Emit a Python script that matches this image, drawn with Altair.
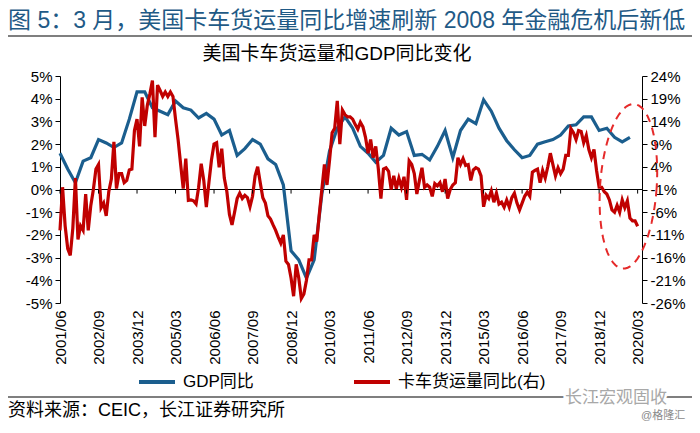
import json
import numpy as np
import pandas as pd
import altair as alt

# ---------------- data ----------------
months = pd.date_range("2001-06-01", "2020-03-01", freq="MS").strftime("%Y/%m").tolist()

# US truck tonnage YoY (%, right axis), monthly 2001/06 - 2020/03
truck_yoy = [
    -10.0, -0.5, -9.0, -14.0, -15.5, -9.5, 1.5, -12.0, -9.0, -10.0,
    -2.0, -10.0, -4.5, -1.0, 3.5, 4.5, -5.0, -4.0, -6.8, -1.5,
    1.3, 9.5, -0.8, 2.5, 2.5, 0.5, 1.0, 3.3, 3.5, 12.0,
    14.5, 8.5, 19.3, 13.0, 17.5, 20.0, 23.0, 10.5, 22.0, 20.8,
    19.5, 20.5, 19.5, 20.5, 19.5, 14.5, 10.0, 4.5, -0.8, 5.8,
    -3.4, -3.3, -3.5, -4.2, -0.5, 4.7, 1.0, -4.9, 0.5, 5.5,
    9.0, 9.3, 3.9, 8.0, 1.5, -1.5, -6.5, -8.8, -6.0, -3.0,
    -1.8, -3.0, -2.3, -2.8, -4.8, -2.5, 2.0, 4.0, 0.5, -2.8,
    -4.0, -6.8, -7.5, -8.8, -10.0, -11.5, -12.8, -11.0, -16.8, -17.5,
    -20.5, -24.5, -17.5, -20.5, -25.0, -24.0, -21.0, -16.5, -16.5, -11.0,
    -12.5, -6.5, -1.0, 4.5, 0.0, 5.5, 11.5, 12.5, 18.5, 9.0,
    16.5, 15.5, 15.0, 15.0, 14.5, 13.3, 12.3, 13.8, 12.8, 10.5,
    7.0, 10.0, 6.0, 8.5, 3.5, -3.0, 3.5, 3.8, 3.0, -1.0,
    2.0, -0.8, 1.5, -0.5, 1.8, -3.3, 5.3, 4.5, 2.5, -2.0,
    1.0, 3.8, -0.5, 0.0, -0.5, -2.5, 0.3, -0.2, 0.5, -1.5,
    1.3, -3.0, -1.0, 0.0, 0.5, 6.0, 4.5, 5.8, 4.3, 4.5,
    1.0, 3.3, 3.8, 3.5, 2.0, -4.8, -2.3, -3.0, -1.3, -3.8,
    -1.8, -4.2, -3.8, -4.9, -3.3, -4.9, -2.8, -1.8, -4.0, -5.5,
    -4.0, -2.5, -1.6, -2.5, 2.8, 3.2, 3.5, 0.5, 3.2, 1.5,
    4.0, 7.0, 4.5, 2.0, 3.8, 2.5, 3.5, 6.5, 6.5, 12.4,
    11.5, 10.0, 12.0, 11.8, 9.3, 10.9, 7.8, 6.0, 7.8, 3.2,
    -0.5, -0.5, -1.5, -2.0, -3.3, -5.5, -6.0, -4.5, -6.0, -3.3,
    -5.0, -3.5, -7.3, -7.9, -7.9, -9.1,
]

# US real GDP YoY (%, left axis), quarterly 2001/06 - 2019/12
gdp_yoy = [
    1.6, 0.9, 0.3, 1.25, 1.4, 2.2, 2.05, 1.85, 2.05, 3.1,
    4.3, 4.3, 3.6, 3.45, 3.3, 3.9, 3.6, 3.5, 3.15, 3.35,
    3.1, 2.4, 2.6, 1.5, 1.8, 2.2, 2.0, 1.35, 1.1, 0.2,
    -2.7, -3.1, -3.9, -3.1, -0.2, 1.7, 2.7, 3.2, 2.7, 1.9,
    1.6, 1.2, 1.5, 2.7, 2.4, 2.55, 1.5, 1.55, 1.3, 1.9,
    2.6, 1.4, 2.6, 3.1, 2.9, 3.95, 3.45, 2.7, 2.15, 1.75,
    1.4, 1.5, 2.0, 2.1, 2.2, 2.4, 2.8, 2.85, 3.2, 3.2,
    2.6, 2.7, 2.3, 2.1, 2.3,
]
gdp_quarters = months[::3][:len(gdp_yoy)]

tick_labels = ["2001/06", "2002/09", "2003/12", "2005/03", "2006/06", "2007/09",
               "2008/12", "2010/03", "2011/06", "2012/09", "2013/12", "2015/03",
               "2016/06", "2017/09", "2018/12", "2020/03"]
left_ticks = [5, 4, 3, 2, 1, 0, -1, -2, -3, -4, -5]
right_ticks = [24, 19, 14, 9, 4, -1, -6, -11, -16, -21, -26]

series_names = ["GDP同比", "卡车货运量同比(右)"]

title_text = "图 5：3 月，美国卡车货运量同比增速刷新 2008 年金融危机后新低"
chart_title = "美国卡车货运量和GDP同比变化"
source_text = "资料来源：CEIC，长江证券研究所"
wm_text = "长江宏观固收"
wm_text2 = "@格隆汇"

# ---------------- styles ----------------
BLUE = "#1b5e8e"
RED = "#c00000"
TITLE_BLUE = "#1f5a86"
FONT = "Liberation Sans, Noto Sans CJK SC"

truck_df = pd.DataFrame({"idx": range(len(months)), "month": months,
                         "value": truck_yoy, "series": series_names[1]})
gdp_df = pd.DataFrame({"idx": [months.index(q) for q in gdp_quarters], "month": gdp_quarters,
                       "value": gdp_yoy, "series": series_names[0]})
tick_idx = [months.index(t) for t in tick_labels]
tick_df = pd.DataFrame({"idx": tick_idx})
one = pd.DataFrame({"a": [0]})

XMAX = 226.7
xscale = alt.Scale(domain=[0, XMAX], nice=False, zero=False)
lscale = alt.Scale(domain=[-5, 5], nice=False, zero=False)
rscale = alt.Scale(domain=[-26, 24], nice=False, zero=False)
cscale = alt.Scale(domain=series_names, range=[BLUE, RED])

x_label_expr = json.dumps(tick_labels, ensure_ascii=False) + "[round(datum.value / 15)]"
xaxis = alt.Axis(values=tick_idx, labelExpr=x_label_expr, labelAngle=270,
                 ticks=False, domain=False, grid=False, labelFontSize=15,
                 labelPadding=7, title=None, labelColor="#000", labelOverlap=False)
X = alt.X("idx:Q", scale=xscale, axis=xaxis)

zero_rule = alt.Chart(one).mark_rule(color="black", strokeWidth=1).encode(
    y=alt.YDatum(0, scale=lscale, axis=None)
)

gdp_line = alt.Chart(gdp_df).mark_line(strokeWidth=3.2).encode(
    x=X,
    y=alt.Y("value:Q", scale=lscale,
            axis=alt.Axis(orient="left", values=left_ticks, labelExpr="datum.value + '%'",
                          grid=False, tickSize=5, tickColor="#000", domainColor="#000",
                          labelFontSize=15, labelPadding=3, title=None, labelColor="#000")),
    color=alt.Color("series:N", scale=cscale,
                    legend=alt.Legend(orient="none", legendX=77, legendY=286,
                                      direction="horizontal", title=None,
                                      symbolType="stroke", symbolStrokeWidth=4,
                                      symbolSize=1296, labelFontSize=17, labelColor="#000",
                                      columnPadding=92, labelOffset=6, padding=0)),
)

truck_line = alt.Chart(truck_df).mark_line(strokeWidth=3.2).encode(
    x=X,
    y=alt.Y("value:Q", scale=rscale,
            axis=alt.Axis(orient="right", values=right_ticks, labelExpr="datum.value + '%'",
                          grid=False, tickSize=5, tickColor="#000", domainColor="#000",
                          labelFontSize=15, labelPadding=3, title=None, labelColor="#000")),
    color=alt.Color("series:N", scale=cscale),
)

zero_ticks = alt.Chart(tick_df).mark_rule(color="black", strokeWidth=1).encode(
    x=X,
    y=alt.YDatum(0, scale=lscale, axis=None),
    y2=alt.Y2Datum(-0.18),
)

# dashed ellipse highlighting the latest months
tt = np.linspace(0, 2 * np.pi, 73)
ell_path = "M" + " L".join(f"{0.343 * np.cos(t):.4f},{np.sin(t):.4f}" for t in tt) + " Z"
ell_df = pd.DataFrame({"idx": [221.4], "v": [0.14]})
ellipse = alt.Chart(ell_df).mark_point(
    shape=ell_path, size=27225, filled=False, color="#e52a2a", strokeWidth=2,
    strokeDash=[8, 6], angle=4, opacity=1
).encode(
    x=X,
    y=alt.Y("v:Q", scale=lscale, axis=None),
)

def txt(text, x, y, size, color="#000", align="left", **kw):
    return alt.Chart(one).mark_text(text=text, align=align, baseline="middle",
                                    fontSize=size, color=color, font=FONT, **kw).encode(
        x=alt.value(x), y=alt.value(y))

def hline(y):
    return alt.Chart(one).mark_rule(color="black", strokeWidth=1.2).encode(
        x=alt.value(-60), x2=alt.value(650), y=alt.value(y))

layers = [
    zero_rule, gdp_line, truck_line, zero_ticks, ellipse,
    txt(title_text, -52, -55, 23, TITLE_BLUE),
    hline(-40),
    txt(chart_title, 277, -22, 19, align="center"),
    hline(321),
    txt(wm_text, 505, 322, 17, "white", stroke="white", strokeWidth=5),
    txt(wm_text, 505, 322, 17, "#a8a8a8"),
    txt(wm_text2, 581, 340, 11, "#8a8a8a"),
    txt(source_text, -52, 335, 18),
]

chart = alt.layer(*layers).resolve_scale(y="independent").properties(
    width=582, height=227,
    padding={"left": 52, "top": 68, "right": 50, "bottom": 120},
    autosize=alt.AutoSizeParams(type="none"),
).configure(font=FONT).configure_view(strokeWidth=0).configure_axis(
    labelFont=FONT).configure_legend(labelFont=FONT)

chart.save("out.html", embed_options={"renderer": "svg", "actions": False})
